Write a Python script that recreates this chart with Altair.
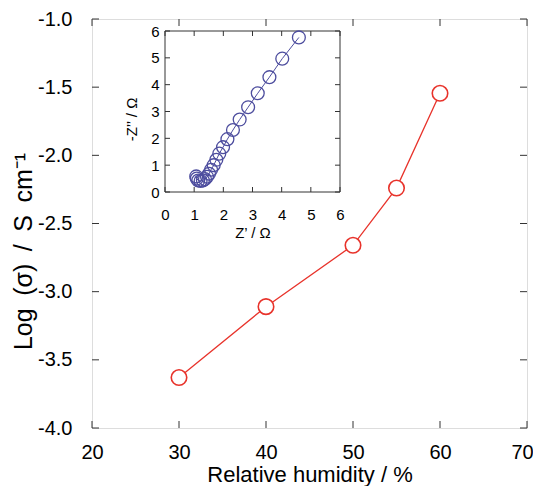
import altair as alt
import pandas as pd

# ---- data ----
rh = [30, 40, 50, 55, 60]
log_sigma = [-3.63, -3.11, -2.66, -2.24, -1.545]

z_re = [4.59, 4.02, 3.58, 3.18, 2.85, 2.56, 2.33, 2.14, 1.99, 1.86, 1.76,
        1.67, 1.58, 1.51, 1.44, 1.37, 1.30, 1.22, 1.14, 1.09, 1.07]
z_im = [5.76, 4.97, 4.28, 3.68, 3.16, 2.70, 2.31, 1.97, 1.67, 1.43, 1.20,
        1.00, 0.83, 0.68, 0.57, 0.48, 0.43, 0.41, 0.43, 0.50, 0.58]

main_x_ticks = [20, 30, 40, 50, 60, 70]
main_y_ticks = [-1.0, -1.5, -2.0, -2.5, -3.0, -3.5, -4.0]
inset_ticks = [0, 1, 2, 3, 4, 5, 6]

# ---- layout ----
W, H = 435, 409
FONT = "Liberation Sans"
RED = "#e8332b"
BLUE = "#4d4d9e"
FRAME = "#333333"
XD = [20, 70]
YD = [-4.0, -1.0]
ID = [0, 6]
IX = [73, 248]   # inset x pixel range inside plot
IY = [173, 12]   # inset y pixel range inside plot

def xs():
    return alt.Scale(domain=XD, range=[0, W], nice=False, zero=False)

def ys():
    return alt.Scale(domain=YD, range=[H, 0], nice=False, zero=False)

def ixs():
    return alt.Scale(domain=ID, range=IX, nice=False, zero=False)

def iys():
    return alt.Scale(domain=ID, range=IY, nice=False, zero=False)

main_df = pd.DataFrame({"rh": rh, "ls": log_sigma})
inset_df = pd.DataFrame({"zr": z_re, "zi": z_im, "i": list(range(len(z_re)))})

# tick length in data units
tlx = 7 * (XD[1] - XD[0]) / W
tly = 7 * (YD[1] - YD[0]) / H
itx = 5 * (ID[1] - ID[0]) / (IX[1] - IX[0])
ity = 5 * (ID[1] - ID[0]) / (IY[0] - IY[1])

x_axis = alt.Axis(values=main_x_ticks, orient="bottom", title="Relative humidity / %",
                  ticks=False, domain=False, grid=False, labelFontSize=20,
                  labelPadding=14, labelFlush=False, labelOverlap=False,
                  labelOffset=alt.condition(f"datum.value == {XD[1]}", alt.value(-5), alt.value(0)),
                  titleFontSize=22, titleFontWeight="normal", titleY=53.5,
                  titleBaseline="alphabetic", labelColor="black", titleColor="black")
y_axis = alt.Axis(values=main_y_ticks, orient="left",
                  labelExpr="replace(format(datum.value, '.1f'), '\u2212', '-')",
                  title="Log\u2002(σ)\u2002/\u2002S\u2002cm⁻¹", ticks=False, domain=False, grid=False,
                  labelFontSize=20, labelPadding=20, labelFlush=False, labelOverlap=False,
                  titleFontSize=25, titleFontWeight="normal", titleAngle=270,
                  titleX=-61, titleY=232, titleBaseline="alphabetic",
                  labelColor="black", titleColor="black")

line = alt.Chart(main_df).mark_line(color=RED, strokeWidth=1.3).encode(
    x=alt.X("rh:Q", scale=xs(), axis=x_axis),
    y=alt.Y("ls:Q", scale=ys(), axis=y_axis),
)
pts = alt.Chart(main_df).mark_point(shape="circle", filled=True, fill="white",
                                    stroke=RED, strokeWidth=1.6, size=240, opacity=1).encode(
    x=alt.X("rh:Q", scale=xs(), axis=None),
    y=alt.Y("ls:Q", scale=ys(), axis=None),
)

def hticks(vals, base, d):
    return pd.DataFrame({"t": vals, "a": [base] * len(vals), "b": [base + d] * len(vals)})

def vrule(df, xsc, ysc):
    return alt.Chart(df).mark_rule(color=FRAME, strokeWidth=1).encode(
        x=alt.X("t:Q", scale=xsc, axis=None),
        y=alt.Y("a:Q", scale=ysc, axis=None),
        y2="b:Q",
    )

def hrule(df, xsc, ysc):
    return alt.Chart(df).mark_rule(color=FRAME, strokeWidth=1).encode(
        y=alt.Y("t:Q", scale=ysc, axis=None),
        x=alt.X("a:Q", scale=xsc, axis=None),
        x2="b:Q",
    )

main_ticks = [
    vrule(hticks(main_x_ticks, YD[0], tly), xs(), ys()),
    vrule(hticks(main_x_ticks, YD[1], -tly), xs(), ys()),
    hrule(hticks(main_y_ticks, XD[0], tlx), xs(), ys()),
    hrule(hticks(main_y_ticks, XD[1], -tlx), xs(), ys()),
]

# ---- inset ----
ix_axis = alt.Axis(values=inset_ticks, orient="bottom", offset=-(H - IY[0]),
                   title="Z’ / Ω", ticks=False, domain=False, grid=False,
                   labelFontSize=15, labelPadding=15, labelFlush=False, labelOverlap=False,
                   titleFontSize=15, titleFontWeight="normal", titleY=45,
                   titleBaseline="alphabetic", labelColor="black", titleColor="black")
iy_axis = alt.Axis(values=inset_ticks, orient="left", offset=-IX[0],
                   title="-Z’’ / Ω", ticks=False, domain=False, grid=False,
                   labelFontSize=15, labelPadding=6, labelFlush=False, labelOverlap=False,
                   titleFontSize=15, titleFontWeight="normal", titleAngle=270,
                   titleX=-29, titleY=100, titleBaseline="alphabetic",
                   labelColor="black", titleColor="black")

frame_df = pd.DataFrame({"x0": [ID[0]], "x1": [ID[1]], "y0": [ID[0]], "y1": [ID[1]]})
frame = alt.Chart(frame_df).mark_rect(fill="white", stroke=FRAME, strokeWidth=1).encode(
    x=alt.X("x0:Q", scale=ixs(), axis=ix_axis),
    x2="x1:Q",
    y=alt.Y("y0:Q", scale=iys(), axis=iy_axis),
    y2="y1:Q",
)
iline = alt.Chart(inset_df).mark_line(color=BLUE, strokeWidth=1).encode(
    x=alt.X("zr:Q", scale=ixs(), axis=None),
    y=alt.Y("zi:Q", scale=iys(), axis=None),
    order="i:Q",
)
ipts = alt.Chart(inset_df).mark_point(shape="circle", filled=False, stroke=BLUE,
                                      strokeWidth=1.3, size=165, opacity=1).encode(
    x=alt.X("zr:Q", scale=ixs(), axis=None),
    y=alt.Y("zi:Q", scale=iys(), axis=None),
)

inset_tick_layers = [
    vrule(hticks(inset_ticks, ID[0], ity), ixs(), iys()),
    vrule(hticks(inset_ticks, ID[1], -ity), ixs(), iys()),
    hrule(hticks(inset_ticks, ID[0], itx), ixs(), iys()),
    hrule(hticks(inset_ticks, ID[1], -itx), ixs(), iys()),
]

chart = alt.layer(
    line, pts, *main_ticks, frame, iline, ipts, *inset_tick_layers
).resolve_scale(
    x="independent", y="independent"
).properties(
    width=W, height=H, autosize="none",
    padding={"left": 84, "top": 11, "right": 6, "bottom": 58},
).configure_view(stroke=FRAME, strokeWidth=1).configure(font=FONT)

chart.save("out.html", embed_options={"renderer": "svg", "actions": False})
